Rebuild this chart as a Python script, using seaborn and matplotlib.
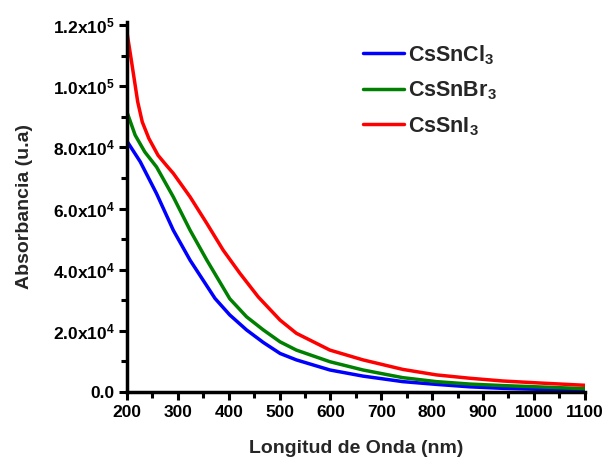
import numpy as np
import pandas as pd
import seaborn as sns
import matplotlib
matplotlib.use("Agg")
import matplotlib.pyplot as plt
from matplotlib.ticker import MultipleLocator, FixedLocator

# ---- data ----
wl_cl = [200, 226, 258, 291, 324, 373, 402, 435, 468, 501, 533, 599, 664, 742, 808, 874, 939, 1005, 1100]
abs_cl = [82000, 75300, 64900, 52900, 43100, 30600, 25200, 20300, 16200, 12600, 10500, 7200, 5200, 3400, 2500, 1700, 1200, 900, 600]

wl_br = [200, 216, 235, 258, 291, 324, 357, 402, 435, 468, 501, 533, 599, 664, 742, 808, 874, 939, 1005, 1100]
abs_br = [91500, 84000, 78500, 73600, 63800, 52900, 43100, 30500, 24600, 20300, 16400, 13700, 9900, 7200, 4700, 3400, 2600, 2100, 1700, 1100]

wl_i = [200, 208, 214, 221, 230, 243, 261, 278, 291, 324, 357, 389, 422, 458, 501, 533, 599, 664, 742, 808, 874, 939, 1005, 1100]
abs_i = [117500, 109000, 102500, 94900, 88300, 82900, 77400, 74000, 71500, 63800, 55100, 46400, 38800, 31100, 23500, 19200, 13700, 10500, 7400, 5600, 4500, 3600, 3000, 2200]

labels = ["CsSnCl$_3$", "CsSnBr$_3$", "CsSnI$_3$"]
colors = ["#0000ff", "#008000", "#ff0000"]

yticks = [0, 20000, 40000, 60000, 80000, 100000, 120000]
ytick_labels = ["0.0", "2.0x10$^4$", "4.0x10$^4$", "6.0x10$^4$", "8.0x10$^4$", "1.0x10$^5$", "1.2x10$^5$"]
xticks = [200, 300, 400, 500, 600, 700, 800, 900, 1000, 1100]

df = pd.concat([
    pd.DataFrame({"wl": wl_cl, "abs": abs_cl, "s": labels[0]}),
    pd.DataFrame({"wl": wl_br, "abs": abs_br, "s": labels[1]}),
    pd.DataFrame({"wl": wl_i, "abs": abs_i, "s": labels[2]}),
])

sns.set_style("ticks")
plt.rcParams["font.family"] = ["Liberation Sans", "DejaVu Sans"]
plt.rcParams["font.weight"] = "bold"
plt.rcParams["mathtext.fontset"] = "custom"
plt.rcParams["mathtext.rm"] = "Liberation Sans:bold"
plt.rcParams["mathtext.it"] = "Liberation Sans:bold"
plt.rcParams["mathtext.bf"] = "Liberation Sans:bold"
plt.rcParams["mathtext.default"] = "bf"

fig = plt.figure(figsize=(6.06, 4.57), dpi=100)
ax = fig.add_axes([0.2096, 0.1422, 0.7554, 0.8097])

sns.lineplot(data=df, x="wl", y="abs", hue="s", palette=colors, linewidth=2.5,
             ax=ax, sort=True, estimator=None)

ax.set_xlim(200, 1100)
ax.set_ylim(0, 121000)
ax.xaxis.set_major_locator(FixedLocator(xticks))
ax.xaxis.set_minor_locator(MultipleLocator(50))
ax.yaxis.set_major_locator(FixedLocator(yticks))
ax.yaxis.set_minor_locator(MultipleLocator(10000))
ax.set_yticklabels(ytick_labels)
ax.set_xticklabels([str(t) for t in xticks])

for s in ["top", "right"]:
    ax.spines[s].set_visible(False)
for s in ["left", "bottom"]:
    ax.spines[s].set_linewidth(2.5)
    ax.spines[s].set_color("black")

ax.tick_params(axis="both", which="major", direction="out", length=6, width=2.2,
               labelsize=12.5, colors="black", pad=3)
ax.tick_params(axis="both", which="minor", direction="out", length=4, width=2.2, colors="black")
for lab in ax.get_xticklabels() + ax.get_yticklabels():
    lab.set_fontweight("bold")

ax.set_xlabel("Longitud de Onda (nm)", fontsize=14, fontweight="bold", labelpad=15)
ax.set_ylabel("Absorbancia (u.a)", fontsize=14, fontweight="bold", labelpad=14)

leg = ax.legend(loc="upper left", bbox_to_anchor=(363 / 606, 1 - 43 / 457),
                bbox_transform=fig.transFigure, frameon=False, fontsize=15.5,
                handlelength=1.9, handletextpad=0.2, labelspacing=0.6,
                borderpad=0, borderaxespad=0)
for t in leg.get_texts():
    t.set_fontweight("bold")

fig.savefig("out.png", dpi=100, facecolor="white")
